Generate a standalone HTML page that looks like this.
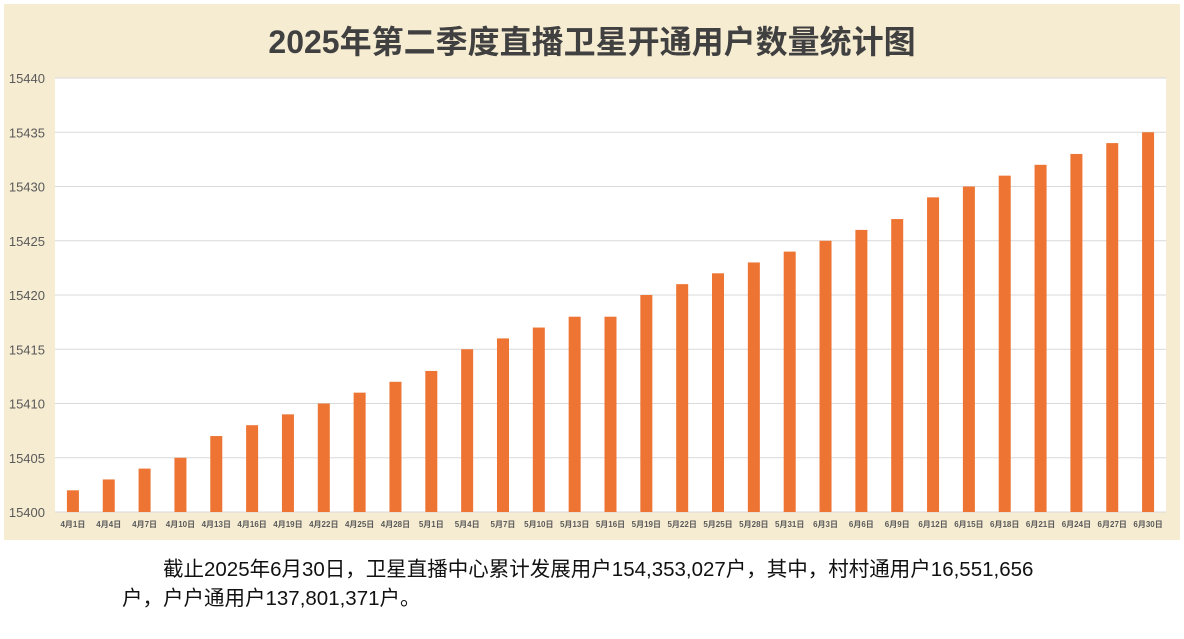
<!DOCTYPE html>
<html><head><meta charset="utf-8"><style>
body{margin:0;width:1184px;height:639px;background:#fff;overflow:hidden;font-family:"Liberation Sans","Noto Sans CJK SC",sans-serif;}
#chart{position:absolute;left:4px;top:4px;width:1176px;height:536px;background:#f6ecd2;}
#title{position:absolute;left:0;top:17px;width:1184px;text-align:center;font-size:32px;font-weight:bold;color:#404040;}
#note{position:absolute;left:122px;top:555px;font-size:20.5px;color:#111;line-height:29px;width:940px;}
</style></head><body>
<div id="chart"></div>
<div id="title">2025年第二季度直播卫星开通用户数量统计图</div>
<svg id="svg" width="1184" height="639" style="position:absolute;left:0;top:0"></svg>
<div id="note">&emsp;&emsp;截止2025年6月30日，卫星直播中心累计发展用户154,353,027户，其中，村村通用户16,551,656户，户户通用户137,801,371户。</div>
<script>
const categories=["4月1日","4月4日","4月7日","4月10日","4月13日","4月16日","4月19日","4月22日","4月25日","4月28日","5月1日","5月4日","5月7日","5月10日","5月13日","5月16日","5月19日","5月22日","5月25日","5月28日","5月31日","6月3日","6月6日","6月9日","6月12日","6月15日","6月18日","6月21日","6月24日","6月27日","6月30日"];
const values=[15402,15403,15404,15405,15407,15408,15409,15410,15411,15412,15413,15415,15416,15417,15418,15418,15420,15421,15422,15423,15424,15425,15426,15427,15429,15430,15431,15432,15433,15434,15435];
const yTicks=[15400,15405,15410,15415,15420,15425,15430,15435,15440];
const NS="http://www.w3.org/2000/svg";
const svg=document.getElementById('svg');
const L=55,R=1166,T=78,B=512,yMin=15400,yMax=15440;
const y=v=>B-(v-yMin)/(yMax-yMin)*(B-T);
const step=(R-L)/categories.length;
const x=i=>L+step*(i+0.5);
function mk(t,a){const e=document.createElementNS(NS,t);for(const k in a)e.setAttribute(k,a[k]);svg.appendChild(e);return e;}
const plot=mk('rect',{x:L,y:T,width:R-L,height:B-T,fill:'#fff'});


yTicks.forEach(v=>{
  const g=mk('line',{x1:L,x2:R,y1:y(v),y2:y(v),stroke:'#d9d9d9','stroke-width':1});
  
  
  const t=mk('text',{x:45,y:y(v)+5,'text-anchor':'end','font-size':13,fill:'#595959'});
  t.textContent=v;
  
  
});
values.forEach((v,i)=>{
  const r=mk('rect',{x:x(i)-6,y:y(v),width:12,height:B-y(v),fill:'#ed7432'});
  
  
  const t=mk('text',{x:x(i),y:527,'text-anchor':'middle','font-size':8,'font-weight':'bold',fill:'#595959'});
  t.textContent=categories[i];
  
  
});
</script>
</body></html>
